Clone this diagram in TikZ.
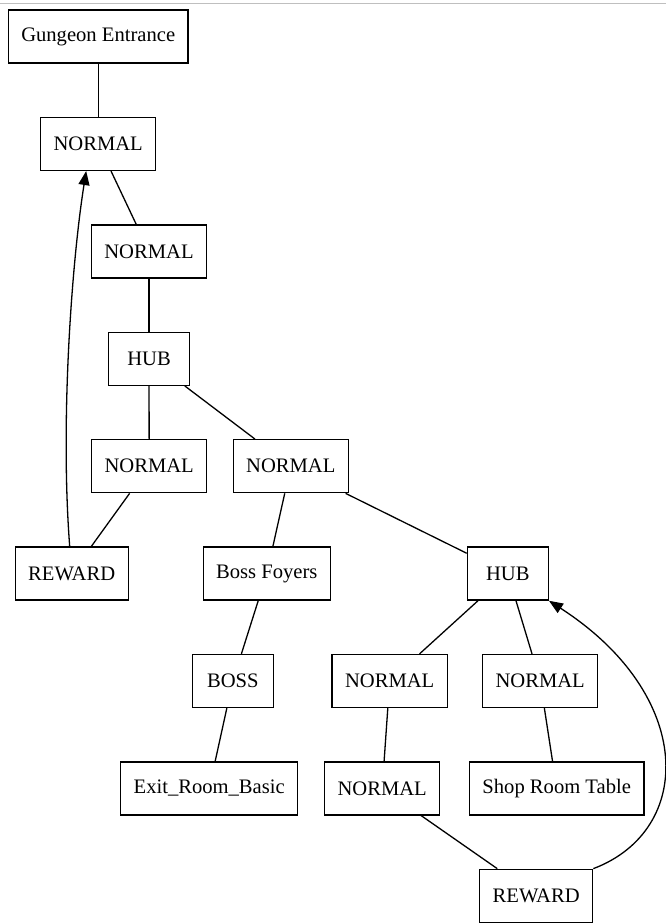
\documentclass[tikz,border=0pt]{standalone}
\usepackage{fontspec}
\setmainfont{Liberation Serif}
\usetikzlibrary{arrows.meta,positioning}

\begin{document}
\begin{tikzpicture}[
        x=1pt, y=-1pt,
        box/.style={
          draw,
          minimum width=81pt,
          minimum height=53pt,
          inner xsep=13pt,
          align=center,
          font=\fontsize{20.6}{24}\selectfont,
          line width=1.3pt
        },
        link/.style={
          line width=1.3pt
        },
        arrow/.style={
          -{Triangle[length=14pt,width=11pt]},
          line width=1.3pt
        }
      ]

      \useasboundingbox (0,0) rectangle (666,924);
      \draw[black!25, line width=1pt] (0,3) -- (666,3);

      % rows from top to bottom
      \node[box] (entrance) at (98.2,36.5) {Gungeon Entrance};
      \node[box] (normal1) at (98.2,143.9) {NORMAL};
      \node[box] (normal2) at (149,251.4) {NORMAL};
      \node[box] (hub1) at (149,358.8) {HUB};
      \node[box] (normal3) at (149.2,466.2) {NORMAL};
      \node[box] (normal4) at (290.8,466.2) {NORMAL};
      \node[box] (reward1) at (71.7,573.6) {REWARD};
      \node[box] (foyers) at (266.8,573.6) {Boss Foyers};
      \node[box] (hub2) at (507.8,573.6) {HUB};
      \node[box] (boss) at (232.8,681) {BOSS};
      \node[box] (normal5) at (389.7,681) {NORMAL};
      \node[box] (normal6) at (540.2,681) {NORMAL};
      \node[box] (exitroom) at (209.2,788.4) {Exit\_Room\_Basic};
      \node[box] (normal7) at (382.2,788.4) {NORMAL};
      \node[box] (shop) at (556.7,788.4) {Shop Room Table};
      \node[box] (reward2) at (536.2,895.8) {REWARD};

      \draw[link] (entrance) -- (normal1);
      \draw[link] (normal1) -- (normal2);
      \draw[link] (normal2) -- (hub1);
      \draw[link] (hub1) -- (normal3);
      \draw[link] (hub1) -- (normal4);
      \draw[link] (normal3) -- (reward1);
      \draw[link] (normal4) -- (foyers);
      \draw[link] (normal4) -- (hub2);
      \draw[link] (foyers) -- (boss);
      \draw[link] (boss) -- (exitroom);
      \draw[link] (hub2) -- (normal5);
      \draw[link] (hub2) -- (normal6);
      \draw[link] (normal5) -- (normal7);
      \draw[link] (normal6) -- (shop);
      \draw[link] (normal7) -- (reward2);

      % back edges
      \draw[arrow] ([xshift=-2pt]reward1.north) .. controls (60,420) and (72,260) .. ([xshift=-12pt]normal1.south);
      \draw[arrow] (reward2.north east) .. controls (695,830) and (695,695) .. (hub2.south east);

      \end{tikzpicture}
\end{document}
